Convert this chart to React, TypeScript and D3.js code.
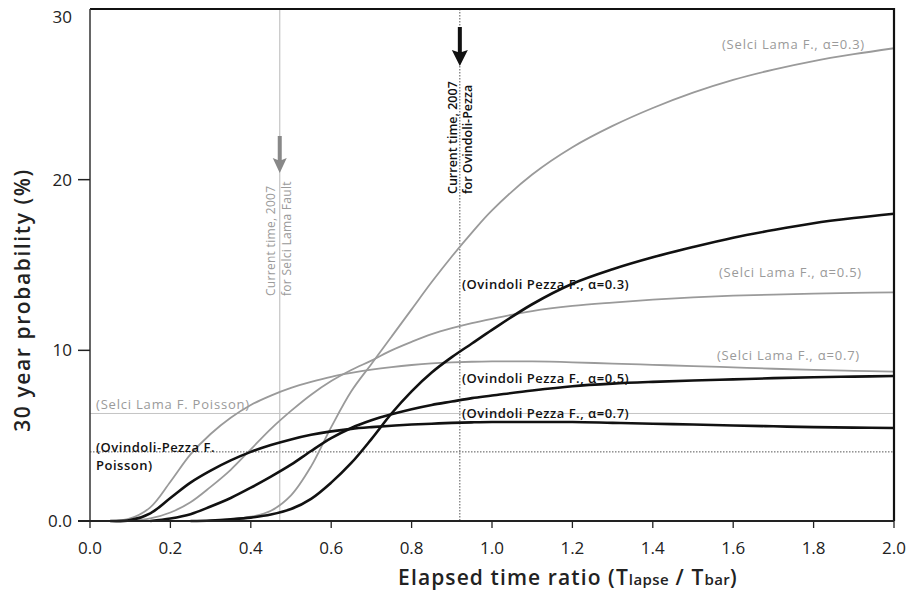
import React from "react";
import * as d3 from "d3";

const ratio = [0, 0.05, 0.1, 0.15, 0.2, 0.25, 0.3, 0.35, 0.4, 0.45, 0.5, 0.55, 0.6, 0.65, 0.7, 0.75, 0.8, 0.85, 0.9, 0.95, 1.0, 1.1, 1.2, 1.3, 1.4, 1.5, 1.6, 1.7, 1.8, 1.9, 2.0];

const selci03 = [0, 0, 0, 0, 0, 0, 0.03, 0.1, 0.25, 0.6, 1.5, 3.2, 5.5, 7.6, 9.2, 10.8, 12.4, 14.0, 15.5, 16.9, 18.2, 20.3, 21.9, 23.15, 24.2, 25.1, 25.85, 26.45, 26.95, 27.35, 27.7];
const selci05 = [0, 0, 0, 0.15, 0.5, 1.1, 2.0, 3.0, 4.2, 5.4, 6.45, 7.4, 8.2, 8.85, 9.4, 10.0, 10.5, 10.95, 11.3, 11.6, 11.85, 12.3, 12.6, 12.8, 12.97, 13.1, 13.2, 13.27, 13.32, 13.37, 13.4];
const selci07 = [0, 0, 0.15, 0.8, 2.3, 3.9, 5.1, 6.05, 6.8, 7.35, 7.8, 8.15, 8.45, 8.68, 8.87, 9.02, 9.14, 9.23, 9.29, 9.33, 9.35, 9.35, 9.3, 9.22, 9.15, 9.08, 9.0, 8.92, 8.85, 8.8, 8.75];
const ovindoli03 = [0, 0, 0, 0, 0, 0, 0.03, 0.1, 0.2, 0.38, 0.7, 1.3, 2.25, 3.4, 4.8, 6.3, 7.6, 8.7, 9.6, 10.4, 11.2, 12.7, 13.9, 14.75, 15.45, 16.05, 16.6, 17.05, 17.45, 17.75, 18.0];
const ovindoli05 = [0, 0, 0, 0, 0.15, 0.4, 0.85, 1.35, 1.95, 2.6, 3.3, 4.1, 4.85, 5.45, 5.9, 6.25, 6.55, 6.8, 7.0, 7.2, 7.35, 7.65, 7.9, 8.05, 8.15, 8.23, 8.3, 8.37, 8.42, 8.46, 8.5];
const ovindoli07 = [0, 0, 0.05, 0.45, 1.35, 2.25, 2.95, 3.55, 4.05, 4.45, 4.78, 5.05, 5.25, 5.4, 5.5, 5.58, 5.65, 5.7, 5.75, 5.78, 5.8, 5.8, 5.8, 5.75, 5.7, 5.65, 5.6, 5.55, 5.5, 5.47, 5.45];

const selciPoisson = 6.3;
const ovindoliPoisson = 4.05;
const selciNow = 0.472;
const ovindoliNow = 0.92;

const xTicks = [0, 0.2, 0.4, 0.6, 0.8, 1.0, 1.2, 1.4, 1.6, 1.8, 2.0];
const xTickLabels = ["0.0", "0.2", "0.4", "0.6", "0.8", "1.0", "1.2", "1.4", "1.6", "1.8", "2.0"];
const yTicks = [0, 10, 20, 30];
const yTickLabels = ["0.0", "10", "20", "30"];

const FONT = "'Open Sans', 'DejaVu Sans', sans-serif";
const GRAY = "#9a9a9a";
const DARK = "#111";

export default function App() {
  const W = 918, H = 595;
  const x = d3.scaleLinear().domain([0, 2]).range([90, 894]);
  const y = d3.scaleLinear().domain([0, 30]).range([521, 9]);

  const trim = (vals: number[]) => {
    const pts = ratio.map((r, i) => [r, vals[i]] as [number, number]);
    let start = 0;
    while (start < pts.length - 1 && pts[start + 1][1] === 0) start++;
    return pts.slice(start);
  };
  const line = d3.line<[number, number]>().x(d => x(d[0])).y(d => Math.min(y(0), y(d[1]))).curve(d3.curveCatmullRom.alpha(0.5));

  const grays = [selci03, selci05, selci07];
  const blacks = [ovindoli03, ovindoli05, ovindoli07];

  const xs = x(selciNow), xo = x(ovindoliNow);

  return (
    <svg width={W} height={H} style={{ position: "absolute", left: 0, top: 0, background: "#fff" }} fontFamily={FONT}>
      <rect x={0} y={0} width={W} height={H} fill="#fff" />
      {/* reference lines */}
      <line x1={x(0)} x2={x(2)} y1={y(selciPoisson)} y2={y(selciPoisson)} stroke="#c4c4c4" strokeWidth={1} />
      <line x1={x(0)} x2={x(2)} y1={y(ovindoliPoisson)} y2={y(ovindoliPoisson)} stroke="#555" strokeWidth={1} strokeDasharray="1.5,1.5" />
      <line x1={xs} x2={xs} y1={y(30)} y2={y(0)} stroke="#c4c4c4" strokeWidth={1.2} />
      <line x1={xo} x2={xo} y1={y(30)} y2={y(0)} stroke="#555" strokeWidth={1} strokeDasharray="1.5,1.5" />

      {/* curves */}
      {grays.map((v, i) => (
        <path key={"g" + i} d={line(trim(v)) || ""} fill="none" stroke={GRAY} strokeWidth={1.8} />
      ))}
      {blacks.map((v, i) => (
        <path key={"b" + i} d={line(trim(v)) || ""} fill="none" stroke={DARK} strokeWidth={2.6} />
      ))}

      {/* frame */}
      <line x1={x(0)} x2={x(2)} y1={y(30)} y2={y(30)} stroke="#111" strokeWidth={2} />
      <line x1={x(2)} x2={x(2)} y1={y(30) - 1} y2={y(0)} stroke="#111" strokeWidth={2.2} />
      <line x1={x(0)} x2={x(0)} y1={y(30)} y2={y(0)} stroke="#333" strokeWidth={1.5} />
      <line x1={x(0) - 12} x2={x(2)} y1={y(0)} y2={y(0)} stroke="#222" strokeWidth={1.8} />

      {/* y ticks */}
      {yTicks.map((t, i) => (
        <g key={"yt" + i}>
          {t < 30 && <line x1={x(0) - 12} x2={x(0)} y1={y(t)} y2={y(t)} stroke="#222" strokeWidth={1.5} />}
          <text x={72} y={t === 30 ? y(t) + 8 : y(t)} dy="0.35em" textAnchor="end" fontSize={17} fill="#222">{yTickLabels[i]}</text>
        </g>
      ))}
      {/* x ticks */}
      {xTicks.map((t, i) => (
        <g key={"xt" + i}>
          <line x1={x(t)} x2={x(t)} y1={y(0)} y2={y(0) + 7} stroke="#222" strokeWidth={1.3} />
          <text x={x(t)} y={548} dy="0.35em" textAnchor="middle" fontSize={17} fill="#222">{xTickLabels[i]}</text>
        </g>
      ))}

      {/* axis titles */}
      <text transform="translate(23,300) rotate(-90)" textAnchor="middle" dy="0.35em" fontSize={21} fontWeight={600} letterSpacing={1.6} fill="#222">30 year probability (%)</text>
      <text x={568} y={578} dy="0.35em" textAnchor="middle" fontSize={21} fontWeight={600} letterSpacing={1.1} fill="#222">
        Elapsed time ratio (T<tspan fontSize={15} letterSpacing={0.4}>lapse</tspan> / T<tspan fontSize={15} letterSpacing={0.4}>bar</tspan>)
      </text>

      {/* curve labels */}
      <g fontSize={13} fill={GRAY} letterSpacing={0.8}>
        <text x={865} y={44} dy="0.35em" textAnchor="end">(Selci Lama F., α=0.3)</text>
        <text x={862} y={272} dy="0.35em" textAnchor="end">(Selci Lama F., α=0.5)</text>
        <text x={860} y={355} dy="0.35em" textAnchor="end">(Selci Lama F., α=0.7)</text>
        <text x={96} y={404} dy="0.35em">(Selci Lama F. Poisson)</text>
      </g>
      <g fontSize={13} fill={DARK} fontWeight={600} letterSpacing={0.5}>
        <text x={462} y={284} dy="0.35em">(Ovindoli Pezza F., α=0.3)</text>
        <text x={462} y={378} dy="0.35em">(Ovindoli Pezza F., α=0.5)</text>
        <text x={462} y={413} dy="0.35em">(Ovindoli Pezza F., α=0.7)</text>
        <text x={96} y={447} dy="0.35em">(Ovindoli-Pezza F.</text>
        <text x={96} y={465} dy="0.35em">Poisson)</text>
      </g>

      {/* current time annotations */}
      <g fontSize={12} fill={GRAY} letterSpacing={0.3}>
        <text transform={`translate(${xs - 9},296) rotate(-90)`} dy="0.35em">Current time, 2007</text>
        <text transform={`translate(${xs + 7},296) rotate(-90)`} dy="0.35em">for Selci Lama Fault</text>
      </g>
      <path d={`M${xs - 2},136 L${xs + 2},136 L${xs + 2},160 L${xs + 7},158 L${xs},173 L${xs - 7},158 L${xs - 2},160 Z`} fill="#888" />

      <g fontSize={12.5} fill={DARK} fontWeight={600}>
        <text transform={`translate(${xo - 7},194) rotate(-90)`} dy="0.35em">Current time, 2007</text>
        <text transform={`translate(${xo + 8},194) rotate(-90)`} dy="0.35em">for Ovindoli-Pezza</text>
      </g>
      <path d={`M${xo - 2},27 L${xo + 2},27 L${xo + 2},52 L${xo + 8},50 L${xo},66 L${xo - 8},50 L${xo - 2},52 Z`} fill="#111" />
    </svg>
  );
}
